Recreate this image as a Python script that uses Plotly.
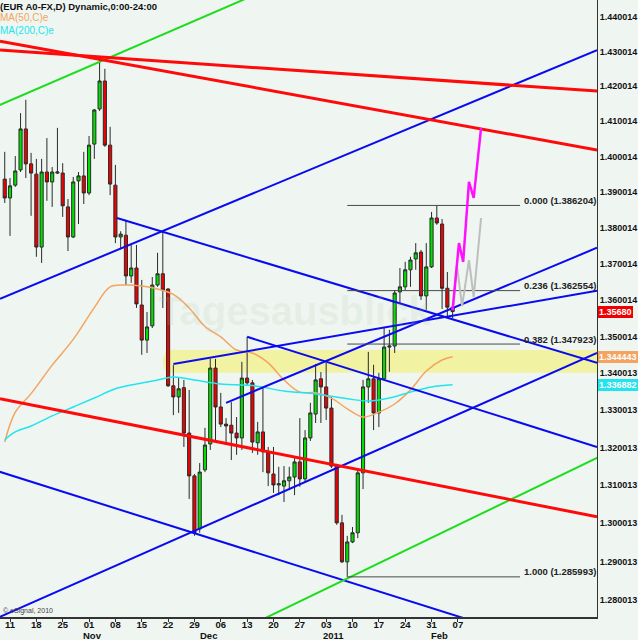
import math
import pandas as pd
import plotly.graph_objects as go

# ---------------- data ----------------
trade_dates = pd.bdate_range("2010-10-08", "2011-02-04")   # 86 daily candles
day_idx = list(range(-1, len(trade_dates) - 1))             # 0 = Mon 11 Oct 2010

opens = [1.3936, 1.3883, 1.3919, 1.3962, 1.4078, 1.3979, 1.3950, 1.3746, 1.3956, 1.3928,
         1.3953, 1.3953, 1.3858, 1.3774, 1.3931, 1.3945, 1.3897, 1.4035, 1.4135, 1.4215,
         1.4032, 1.3919, 1.3774, 1.3779, 1.3666, 1.3688, 1.3586, 1.3490, 1.3529, 1.3641,
         1.3672, 1.3630, 1.3366, 1.3336, 1.3361, 1.3239, 1.3125, 1.2985, 1.3141, 1.3210,
         1.3414, 1.3309, 1.3263, 1.3260, 1.3239, 1.3226, 1.3387, 1.3374, 1.3213, 1.3242,
         1.3186, 1.3130, 1.3101, 1.3098, 1.3112, 1.3122, 1.3162, 1.3117, 1.3226, 1.3290,
         1.3385, 1.3363, 1.3306, 1.3151, 1.3001, 1.2899, 1.2951, 1.2975, 1.3133, 1.3363,
         1.3385, 1.3293, 1.3385, 1.3471, 1.3474, 1.3622, 1.3636, 1.3683, 1.3713, 1.3732,
         1.3611, 1.3691, 1.3827, 1.3810, 1.3632, 1.3580]
highs = [1.4013, 1.3939, 1.4001, 1.4123, 1.4161, 1.4010, 1.3993, 1.3993, 1.4052, 1.3970,
         1.4081, 1.3981, 1.3880, 1.3942, 1.3956, 1.4013, 1.4058, 1.4135, 1.4287, 1.4250,
         1.4084, 1.3976, 1.3790, 1.3822, 1.3752, 1.3752, 1.3655, 1.3567, 1.3663, 1.3730,
         1.3788, 1.3632, 1.3422, 1.3387, 1.3382, 1.3355, 1.3130, 1.3159, 1.3253, 1.3439,
         1.3439, 1.3347, 1.3279, 1.3322, 1.3282, 1.3431, 1.3499, 1.3382, 1.3269, 1.3361,
         1.3202, 1.3202, 1.3149, 1.3151, 1.3149, 1.3173, 1.3279, 1.3247, 1.3320, 1.3425,
         1.3403, 1.3428, 1.3336, 1.3157, 1.3022, 1.2967, 1.2990, 1.3146, 1.3382, 1.3458,
         1.3423, 1.3401, 1.3526, 1.3518, 1.3627, 1.3688, 1.3705, 1.3719, 1.3757, 1.3738,
         1.3757, 1.3844, 1.3862, 1.3824, 1.3677, 1.3592]
lows = [1.3869, 1.3777, 1.3914, 1.3956, 1.3939, 1.3833, 1.3719, 1.3702, 1.3875, 1.3858,
        1.3950, 1.3830, 1.3735, 1.3771, 1.3810, 1.3866, 1.3891, 1.3993, 1.4129, 1.4027,
        1.3891, 1.3757, 1.3740, 1.3641, 1.3647, 1.3578, 1.3450, 1.3455, 1.3523, 1.3636,
        1.3578, 1.3363, 1.3287, 1.3293, 1.3202, 1.3064, 1.2967, 1.2975, 1.3135, 1.3194,
        1.3215, 1.3255, 1.3207, 1.3167, 1.3181, 1.3194, 1.3368, 1.3186, 1.3181, 1.3135,
        1.3098, 1.3080, 1.3074, 1.3056, 1.3088, 1.3074, 1.3096, 1.3107, 1.3218, 1.3266,
        1.3266, 1.3274, 1.3146, 1.2996, 1.2896, 1.2860, 1.2948, 1.2961, 1.3090, 1.3320,
        1.3247, 1.3255, 1.3382, 1.3404, 1.3455, 1.3592, 1.3627, 1.3636, 1.3683, 1.3600,
        1.3573, 1.3688, 1.3808, 1.3575, 1.3553, 1.3550]
closes = [1.3883, 1.3917, 1.3959, 1.4078, 1.3979, 1.3953, 1.3746, 1.3956, 1.3928, 1.3956,
          1.3956, 1.3861, 1.3774, 1.3928, 1.3945, 1.3897, 1.4032, 1.4132, 1.4215, 1.4032,
          1.3922, 1.3774, 1.3782, 1.3666, 1.3688, 1.3589, 1.3490, 1.3526, 1.3641, 1.3672,
          1.3627, 1.3366, 1.3336, 1.3358, 1.3239, 1.3125, 1.2975, 1.3135, 1.3207, 1.3414,
          1.3309, 1.3263, 1.3258, 1.3239, 1.3226, 1.3387, 1.3374, 1.3215, 1.3242, 1.3189,
          1.3133, 1.3101, 1.3104, 1.3112, 1.3122, 1.3162, 1.3117, 1.3226, 1.3293, 1.3382,
          1.3363, 1.3306, 1.3151, 1.3001, 1.2899, 1.2951, 1.2975, 1.3133, 1.3363, 1.3385,
          1.3293, 1.3385, 1.3471, 1.3474, 1.3619, 1.3636, 1.3683, 1.3710, 1.3730, 1.3611,
          1.3691, 1.3827, 1.3813, 1.3632, 1.3580, 1.3568]

ma50_idx = [-1, 1, 4, 8, 12, 16, 19, 22, 25, 28, 31, 34, 37, 40, 43, 46, 49, 52, 55, 58,
            61, 64, 67, 70, 73, 76, 79, 82, 84]
ma50_val = [1.3215, 1.3295, 1.3345, 1.3422, 1.3492, 1.3579, 1.3636, 1.3641, 1.3638, 1.3630,
            1.3615, 1.3578, 1.3527, 1.3499, 1.3463, 1.3455, 1.3428, 1.3382, 1.3349, 1.3347,
            1.3333, 1.3304, 1.3282, 1.3295, 1.3317, 1.3355, 1.3406, 1.3436, 1.344443]
ma200_idx = [-1, 1, 4, 8, 12, 16, 20, 24, 28, 31, 35, 40, 46, 52, 58, 64, 68, 72, 76, 80, 84]
ma200_val = [1.3221, 1.3242, 1.3258, 1.3285, 1.3309, 1.3333, 1.3358, 1.3371, 1.3382, 1.3390,
             1.3382, 1.3371, 1.3367, 1.3352, 1.3344, 1.3331, 1.3325, 1.3333, 1.3349, 1.3363,
             1.336882]

# trend lines: (start day, start price, end day, end price)
red_trends = [(-1.9, 1.4304, 111.4, 1.4186),
              (-1.9, 1.4330, 111.4, 1.4018),
              (-1.9, 1.3331, 111.4, 1.3017)]
green_trends = [(-2.0, 1.4146, 47.4, 1.4471),
                (45.5, 1.2734, 112.0, 1.3177)]
blue_trends = [(-1.9, 1.3603, 111.4, 1.4304),
               (20.3, 1.3827, 111.4, 1.3428),
               (45.0, 1.3499, 111.4, 1.3202),
               (31.0, 1.3425, 111.4, 1.3625),
               (41.0, 1.3320, 111.4, 1.3744),
               (-2.5, 1.2753, 111.4, 1.3455),
               (-2.0, 1.3136, 87.3, 1.2748)]

fib_ratios = ["0.000", "0.236", "0.382", "1.000"]
fib_prices = [1.386204, 1.362554, 1.347923, 1.285993]
fib_start, fib_end = 64, 96.8

proj_magenta_x = [84, 85.2, 86.0, 87.1, 88.0, 89.4]
proj_magenta_y = [1.3572, 1.3757, 1.3705, 1.3928, 1.3883, 1.4081]
proj_gray_x = [84, 84.8, 85.8, 87.1, 88.0, 89.4]
proj_gray_y = [1.3572, 1.3696, 1.3583, 1.3710, 1.3608, 1.3827]

band_lo, band_hi, band_start = 1.3401, 1.3463, 29.0

week_ticks = list(range(0, 90, 5))
week_labels = ["11", "18", "25", "01", "08", "15", "22", "29", "06", "13", "20", "27",
               "03", "10", "17", "24", "31", "07"]
month_labels = ["Nov", "Dec", "2011", "Feb"]
month_pos = [15.6, 37.6, 61.3, 81.6]

price_labels = ["1.440014", "1.430014", "1.420014", "1.410014", "1.400014", "1.390014",
                "1.380014", "1.370014", "1.360014", "1.350014", "1.340013", "1.330013",
                "1.320013", "1.310013", "1.300013", "1.290013", "1.280013"]
last_price = 1.35680
ma50_last = 1.344443
ma200_last = 1.336882

# ---------------- figure ----------------
BG = "#EFF6F1"
FONT = "Liberation Sans, Arial, sans-serif"

fig = go.Figure()

fig.add_trace(go.Candlestick(
    x=day_idx, open=opens, high=highs, low=lows, close=closes,
    increasing=dict(fillcolor="#00E000", line=dict(color="#2a2a2a", width=1)),
    decreasing=dict(fillcolor="#F00000", line=dict(color="#2a2a2a", width=1)),
    whiskerwidth=0, hoverinfo="skip", showlegend=False))

fig.add_trace(go.Scatter(x=ma50_idx, y=ma50_val, mode="lines", line=dict(color="#F4A460", width=1.5, shape="spline"),
                         hoverinfo="skip", showlegend=False))
fig.add_trace(go.Scatter(x=ma200_idx, y=ma200_val, mode="lines", line=dict(color="#22E4EE", width=1.5, shape="spline"),
                         hoverinfo="skip", showlegend=False))


def add_seg(seg, color, width):
    x0, y0, x1, y1 = seg
    fig.add_trace(go.Scatter(x=[x0, x1], y=[y0, y1], mode="lines",
                             line=dict(color=color, width=width),
                             hoverinfo="skip", showlegend=False))


for s in blue_trends:
    add_seg(s, "#0A0AF0", 2)
for s in green_trends:
    add_seg(s, "#1EDC1E", 2)
for s in red_trends:
    add_seg(s, "#FF0A0A", 3)

for r, p in zip(fib_ratios, fib_prices):
    add_seg((fib_start, p, fib_end, p), "#4a4a4a", 1)
    fig.add_annotation(x=fib_end + 0.4, y=math.log10(p), xref="x", yref="y",
                       text=f"<b>{r} ({p:.6f})</b>", showarrow=False,
                       xanchor="left", yanchor="middle", yshift=5,
                       font=dict(family=FONT, size=9.5, color="#222222"))

fig.add_trace(go.Scatter(x=proj_gray_x, y=proj_gray_y, mode="lines",
                         line=dict(color="#BEBEBE", width=2), hoverinfo="skip", showlegend=False))
fig.add_trace(go.Scatter(x=proj_magenta_x, y=proj_magenta_y, mode="lines",
                         line=dict(color="#FF10FF", width=2.5), hoverinfo="skip", showlegend=False))

# yellow support band (rounded left end)
fig.add_shape(type="rect", x0=band_start + 1.3, x1=113, y0=band_lo, y1=band_hi,
              xref="x", yref="y", layer="below", fillcolor="#F2F3A2", line=dict(width=0))
fig.add_shape(type="circle", x0=band_start, x1=band_start + 2.6, y0=band_lo, y1=band_hi,
              xref="x", yref="y", layer="below", fillcolor="#F2F3A2", line=dict(width=0))

# watermark
fig.add_annotation(x=0.494, y=0.496, xref="paper", yref="paper", text="<b>Tagesausblick</b>",
                   showarrow=False, font=dict(family=FONT, size=40, color="rgba(170,195,170,0.17)"))

# header texts
fig.add_annotation(x=0, y=0.990, xref="paper", yref="paper", xanchor="left", yanchor="middle", xshift=-2,
                   text="<b>(EUR A0-FX,D) Dynamic,0:00-24:00</b>", showarrow=False,
                   font=dict(family=FONT, size=9.5, color="#111111"))
fig.add_annotation(x=0, y=0.971, xref="paper", yref="paper", xanchor="left", yanchor="middle", xshift=-2,
                   text="MA(50,C)e", showarrow=False, font=dict(family=FONT, size=10, color="#F4A460"))
fig.add_annotation(x=0, y=0.951, xref="paper", yref="paper", xanchor="left", yanchor="middle", xshift=-2,
                   text="MA(200,C)e", showarrow=False, font=dict(family=FONT, size=10, color="#22E4EE"))
fig.add_annotation(x=0, y=0.0097, xref="paper", yref="paper", xanchor="left", yanchor="middle", xshift=1,
                   text="© eSignal, 2010", showarrow=False, font=dict(family=FONT, size=7, color="#444444"))

# highlighted price boxes on the right axis
for val, txt, col in [(last_price, "1.35680", "#F00000"),
                      (ma50_last, "1.344443", "#F4A460"),
                      (ma200_last, "1.336882", "#22E4EE")]:
    fig.add_annotation(x=1, y=math.log10(val), xref="paper", yref="y", xanchor="left", yanchor="middle",
                       xshift=1, text=f"<b>{txt}</b>", showarrow=False, bgcolor=col,
                       borderpad=1, borderwidth=0,
                       font=dict(family=FONT, size=9, color="white"))

# month labels
for t, p in zip(month_labels, month_pos):
    fig.add_annotation(x=p, y=-0.0305, xref="x", yref="paper", text=f"<b>{t}</b>", showarrow=False,
                       yanchor="middle", font=dict(family=FONT, size=9.5, color="#111111"))

price_vals = [float(s) for s in price_labels]

fig.update_layout(
    width=638, height=640,
    margin=dict(l=0, r=41, t=0, b=23),
    paper_bgcolor=BG, plot_bgcolor=BG,
    showlegend=False,
    boxgap=0.15,
    xaxis=dict(range=[-1.9, 111.4], rangeslider=dict(visible=False), showgrid=False, zeroline=False,
               tickmode="array", tickvals=week_ticks, ticktext=week_labels,
               ticks="outside", ticklen=3, tickcolor="#333333", ticklabelstandoff=-5,
               showline=True, linecolor="#333333", linewidth=1.5,
               tickfont=dict(family=FONT, size=9.5, color="#111111", weight="bold")),
    yaxis=dict(type="log", range=[math.log10(1.27561), math.log10(1.44495)], side="right",
               showgrid=False, zeroline=False, tickmode="array", tickvals=price_vals, ticktext=price_labels,
               ticks="", showline=True, linecolor="#333333", linewidth=1,
               tickfont=dict(family=FONT, size=9, color="#111111", weight="bold")),
)

fig.write_html("out.html", config={"displayModeBar": False},
               post_script="document.body.style.margin='0';document.body.style.overflow='hidden';")
